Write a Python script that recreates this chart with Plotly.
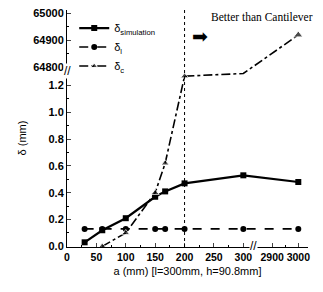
import plotly.graph_objects as go

# ---- data ----
a_sim = [30, 60, 100, 150, 167, 200, 300, 3000]
d_sim = [0.03, 0.12, 0.21, 0.37, 0.41, 0.47, 0.53, 0.48]

a_l = [30, 60, 100, 150, 167, 200, 300, 3000]
d_l = [0.13, 0.13, 0.13, 0.13, 0.13, 0.13, 0.13, 0.13]

a_c = [60, 100, 150, 167, 200, 300, 3000]
d_c = [0.0, 0.10, 0.40, 0.62, 1.27, 1.29, 64920]
c_marker_sizes = [7, 7, 7, 7, 7, 0, 8]

x_ticks_low = [0, 50, 100, 150, 200, 250, 300]
x_ticks_high = [2900, 3000]
y_ticks_low = [0.0, 0.2, 0.4, 0.6, 0.8, 1.0, 1.2]
y_ticks_high = [64800, 64900, 65000]

# ---- broken-axis transforms ----
def tx(x):
    return x if x <= 320 else 349 + (x - 2900) * 0.445

def ty(y):
    return y if y < 10 else 1.336 + (y - 64800) * 0.002015

fig = go.Figure()
fig.add_trace(go.Scatter(
    x=[tx(v) for v in a_sim], y=[ty(v) for v in d_sim], mode="lines+markers",
    name="δ<sub>simulation</sub>",
    line=dict(color="black", width=2.2),
    marker=dict(symbol="square", size=6, color="black")))
fig.add_trace(go.Scatter(
    x=[tx(v) for v in a_l], y=[ty(v) for v in d_l], mode="lines+markers",
    name="δ<sub>l</sub>",
    line=dict(color="black", width=1.6, dash="dash"),
    marker=dict(symbol="circle", size=6, color="black")))
fig.add_trace(go.Scatter(
    x=[tx(v) for v in a_c], y=[ty(v) for v in d_c], mode="lines+markers",
    name="δ<sub>c</sub>",
    line=dict(color="black", width=1.6, dash="dashdot"),
    marker=dict(symbol="triangle-up", size=c_marker_sizes, color="black")))

# dotted vertical line at a = 200
fig.add_shape(type="line", x0=tx(200), x1=tx(200), y0=0, y1=1, yref="paper",
              line=dict(color="black", width=1, dash="dot"))

fig.add_annotation(xref="paper", x=1.027, y=1.715, text="Better than Cantilever",
                   showarrow=False, xanchor="right", yanchor="middle",
                   font=dict(family="Liberation Serif", size=11.5, color="black"))
fig.add_annotation(x=226, y=1.57, text="➡", showarrow=False,
                   xanchor="center", yanchor="middle",
                   font=dict(family="DejaVu Sans", size=19, color="black"))

# break marks
fig.add_annotation(x=0, y=1.305, text="//", showarrow=False,
                   font=dict(family="Liberation Sans", size=12, color="black"),
                   bgcolor="white", borderpad=0)
fig.add_annotation(x=tx(318), y=0, text="//", showarrow=False,
                   font=dict(family="Liberation Sans", size=12, color="black"),
                   bgcolor="white", borderpad=0)

# y-axis title
fig.add_annotation(xref="paper", yref="paper", x=-0.185, y=0.46, text="δ (mm)",
                   textangle=-90, showarrow=False, xanchor="center", yanchor="middle",
                   font=dict(family="Liberation Sans", size=11, color="black"))

tickfont = dict(family="Liberation Sans", size=11, color="black", weight="bold")
xt = [tx(v) for v in x_ticks_low + x_ticks_high]
xl = [str(v) for v in x_ticks_low + x_ticks_high]
yt = [ty(v) for v in y_ticks_low + y_ticks_high]
yl = [f"{v:.1f}" for v in y_ticks_low] + [str(v) for v in y_ticks_high]

fig.update_layout(
    width=307, height=276,
    margin=dict(l=59, r=7, t=2, b=37),
    paper_bgcolor="white", plot_bgcolor="white",
    showlegend=True,
    legend=dict(x=0.03, y=0.985, xanchor="left", yanchor="top",
                bgcolor="rgba(0,0,0,0)", tracegroupgap=0,
                font=dict(family="Liberation Sans", size=11, color="black")),
    xaxis=dict(range=[0, 410], tickmode="array", tickvals=xt, ticktext=xl,
               tickangle=0, automargin=False, ticklabeloverflow="allow",
               ticks="inside", ticklen=4, showline=True, linecolor="black",
               showgrid=False, zeroline=False,
               tickfont=dict(family="Liberation Sans", size=10.5, color="black", weight="bold"),
               minor=dict(tickmode="array",
                          tickvals=[tx(v) for v in [25, 75, 125, 175, 225, 275, 2950]],
                          ticks="inside", ticklen=2, tickcolor="black"),
               title=dict(text="a (mm) [l=300mm, h=90.8mm]", standoff=5,
                          font=dict(family="Liberation Sans", size=11, color="black"))),
    yaxis=dict(range=[-0.005, 1.764], tickmode="array", tickvals=yt, ticktext=yl,
               automargin=False, ticklabeloverflow="allow",
               ticks="inside", ticklen=4, showline=True, linecolor="black",
               showgrid=False, zeroline=False, tickfont=tickfont,
               minor=dict(tickmode="array",
                          tickvals=[ty(v) for v in [0.1, 0.3, 0.5, 0.7, 0.9, 1.1, 64850, 64950]],
                          ticks="inside", ticklen=2, tickcolor="black")),
)

fig.write_html("out.html")
